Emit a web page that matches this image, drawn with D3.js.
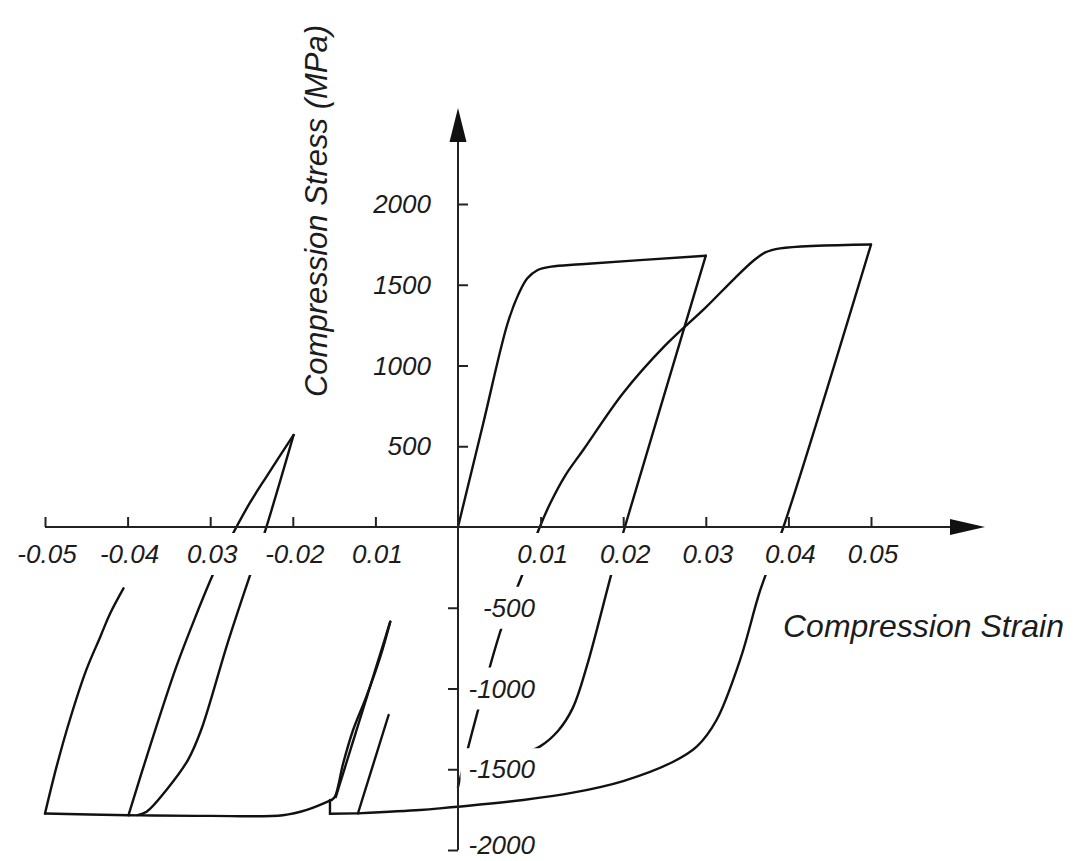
<!DOCTYPE html>
<html>
<head>
<meta charset="utf-8">
<script src="https://cdn.jsdelivr.net/npm/d3@7"></script>
<style>
  body { margin: 0; background: #fff; }
  text { font-family: "Liberation Sans", Arial, sans-serif; font-style: italic; fill: #1c1c1c; }
</style>
</head>
<body>
<svg id="chart"></svg>
<script>
// [strain, stress MPa], one array per branch
const loop1Load = [[0, 0], [0.0030, 630], [0.0060, 1260], [0.0074, 1450], [0.0084, 1540], [0.0096, 1590], [0.0113, 1612], [0.0149, 1627], [0.0300, 1680]];
const loop1Unload = [[0.0300, 1680], [0.0202, 0], [0.0188, -247], [0.0156, -862], [0.0139, -1120], [0.0121, -1263], [0.0099, -1360], [0.0081, -1400]];

const loop2Load = [[0, -1610], [0.0025, -1120], [0.0053, -620], [0.0079, -280], [0.0099, 0], [0.0112, 150], [0.0130, 320], [0.0152, 480], [0.0200, 830], [0.0250, 1120], [0.0300, 1360], [0.0335, 1540], [0.0358, 1650], [0.0372, 1700], [0.0390, 1725], [0.0500, 1749]];
const loop2Unload = [[0.0500, 1749], [0.0394, 0], [0.0366, -390], [0.0342, -815], [0.0313, -1195], [0.0289, -1360], [0.0260, -1455], [0.0200, -1573], [0.0139, -1645], [0.0079, -1690], [-0.0022, -1742], [-0.0046, -1752], [-0.0121, -1773]];
const loop2Step = [[-0.0121, -1773], [-0.0155, -1775], [-0.0155, -1690]];

const leftRise1 = [[-0.0500, -1774], [-0.0486, -1484], [-0.0470, -1195], [-0.0450, -885], [-0.0433, -679], [-0.0421, -534], [-0.0405, -380]];
const leftBottom = [[-0.0500, -1774], [-0.0399, -1785], [-0.0370, -1786], [-0.0300, -1789], [-0.0212, -1785], [-0.0183, -1752], [-0.0153, -1690]];
const leftRise2 = [[-0.0399, -1785], [-0.0373, -1360], [-0.0341, -865], [-0.0318, -558], [-0.0296, -287], [-0.0275, -66], [-0.0252, 149], [-0.0232, 311], [-0.0199, 570]];
const leftFall = [[-0.0199, 570], [-0.0236, -66], [-0.0251, -287], [-0.0279, -720], [-0.0311, -1257], [-0.0327, -1443], [-0.0353, -1628], [-0.0377, -1763], [-0.0388, -1784]];

const smallLoopUp = [[-0.0153, -1690], [-0.0149, -1670], [-0.0139, -1463], [-0.0127, -1257], [-0.0111, -1051], [-0.0094, -803], [-0.0082, -586]];
const smallLoopDown = [[-0.0082, -586], [-0.0148, -1672]];
const sideLine = [[-0.0121, -1771], [-0.0084, -1164]];

const xTicks = [-0.05, -0.04, -0.03, -0.02, -0.01, 0.01, 0.02, 0.03, 0.04, 0.05];
const xTickLabels = ["-0.05", "-0.04", "0.03", "-0.02", "0.01", "0.01", "0.02", "0.03", "0.04", "0.05"];
const yTicksPos = [500, 1000, 1500, 2000];
const yTicksNeg = [-500, -1000, -1500, -2000];

const width = 1079, height = 861;

const x = d3.scaleLinear().domain([-0.05, 0.05]).range([45, 871]);
const y = d3.scaleLinear().domain([-2000, 2000]).range([850, 204]);
const x0 = x(0), y0 = y(0);

const svg = d3.select('#chart').attr('width', width).attr('height', height);
svg.append('rect').attr('width', width).attr('height', height).attr('fill', '#fff');

const smooth = d3.line().x(d => x(d[0])).y(d => y(d[1])).curve(d3.curveCatmullRom.alpha(0.5));
const straight = d3.line().x(d => x(d[0])).y(d => y(d[1]));

const curves = svg.append('g')
    .attr('fill', 'none')
    .attr('stroke', '#111')
    .attr('stroke-width', 2.4)
    .attr('stroke-linejoin', 'round')
    .attr('stroke-linecap', 'round');

[loop1Load, loop1Unload, loop2Load, loop2Unload, leftRise1, leftBottom, leftRise2, leftFall, smallLoopUp]
  .forEach(b => curves.append('path').attr('d', smooth(b)));
[loop2Step, smallLoopDown, sideLine]
  .forEach(b => curves.append('path').attr('d', straight(b)).attr('stroke-linejoin', 'miter'));

// tick labels sit on white boxes that knock the curves out, like the original print
function label(g, tx, ty, txt, anchor, padX, padY) {
  const t = g.append('text')
      .attr('x', tx).attr('y', ty)
      .attr('text-anchor', anchor)
      .attr('font-size', 26)
      .text(txt);
  const b = t.node().getBBox();
  g.insert('rect', 'text')
      .attr('x', b.x - padX).attr('y', b.y - padY + 3)
      .attr('width', b.width + 2 * padX).attr('height', b.height + 2 * padY - 6)
      .attr('fill', '#fff');
}

const labels = svg.append('g');
xTicks.forEach((v, i) => label(labels, x(v) + 2, y0 + 36, xTickLabels[i], 'middle', 18, 9));
yTicksPos.forEach(v => label(labels, x0 - 27, y(v) + 9, String(v), 'end', 8, 9));
yTicksNeg.forEach(v => label(labels, x0 + 77, Math.min(y(v) + 9, height - 7), String(v), 'end', 8, 9));

// axes on top
const axes = svg.append('g');

axes.append('g')
    .attr('transform', `translate(0,${y0})`)
    .call(d3.axisTop(x).tickValues(xTicks).tickSize(10).tickFormat(''))
    .call(g => g.select('.domain').remove());

axes.append('g')
    .attr('transform', `translate(${x0},0)`)
    .call(d3.axisRight(y).tickValues(yTicksPos).tickSize(10).tickFormat(''))
    .call(g => g.select('.domain').remove());

axes.append('g')
    .attr('transform', `translate(${x0},0)`)
    .call(d3.axisLeft(y).tickValues(yTicksNeg).tickSize(10).tickFormat(''))
    .call(g => g.select('.domain').remove());

axes.selectAll('.tick line').attr('stroke', '#222').attr('stroke-width', 2);

axes.append('line')
    .attr('x1', x(-0.05)).attr('x2', 955)
    .attr('y1', y0).attr('y2', y0)
    .attr('stroke', '#222').attr('stroke-width', 2);
axes.append('path')
    .attr('d', `M985,${y0} L950,${y0 - 8} L950,${y0 + 8} Z`)
    .attr('fill', '#111');

axes.append('line')
    .attr('x1', x0).attr('x2', x0)
    .attr('y1', y(-2000)).attr('y2', 137)
    .attr('stroke', '#222').attr('stroke-width', 2);
axes.append('path')
    .attr('d', `M${x0},108 L${x0 - 8.5},142 L${x0 + 8.5},142 Z`)
    .attr('fill', '#111');

// axis titles
svg.append('text')
    .attr('transform', 'translate(327,211) rotate(-90)')
    .attr('text-anchor', 'middle')
    .attr('font-size', 31)
    .text('Compression Stress (MPa)');

svg.append('text')
    .attr('x', 783).attr('y', 637)
    .attr('font-size', 32)
    .text('Compression Strain');
</script>
</body>
</html>
